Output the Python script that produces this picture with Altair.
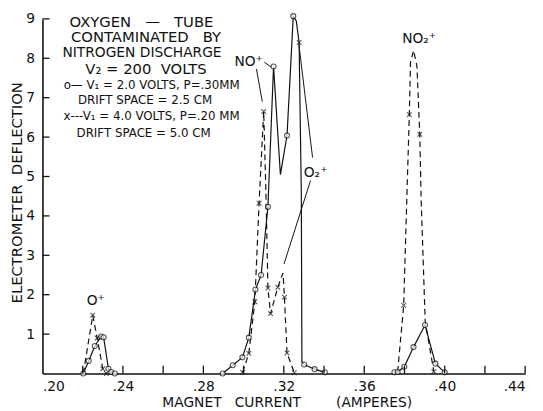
import altair as alt
import pandas as pd

NB = "\u00a0"  # non-breaking space keeps wide gaps in SVG text

# ---- data ----
# series "o" : V1 = 2.0 volts (solid line, open circles)
solid_x = [0.2203, 0.2230, 0.2260, 0.2292, 0.2304, 0.2328, 0.2342, 0.2360,
           0.2896, 0.2946, 0.2994, 0.3026, 0.3059, 0.3087, 0.3121, 0.3149, 0.3183, 0.3216,
           0.3247, 0.3262, 0.3276, 0.3287, 0.3290, 0.3301, 0.3353, 0.3404,
           0.3750, 0.3766, 0.3799, 0.3845, 0.3902, 0.3954, 0.4000]
solid_y = [0.0, 0.32, 0.70, 0.94, 0.92, 0.12, 0.04, 0.0,
           0.0, 0.21, 0.41, 0.91, 2.13, 2.50, 4.23, 7.79, 5.05, 6.04,
           9.07, 8.95, 8.40, 4.60, 0.30, 0.23, 0.11, 0.03,
           0.03, 0.04, 0.17, 0.67, 1.23, 0.25, 0.03]
solid_m = ["o", "o", "o", "o", "o", "o", "o", "o",
           "o", "o", "o", "o", "o", "o", "o", "o", "", "o",
           "o", "", "x", "", "", "o", "o", "o",
           "o", "o", "o", "o", "o", "o", "o"]
solid_g = [1] * 8 + [2] * 18 + [3] * 7

# series "x" : V1 = 4.0 volts (dashed line, crosses)
dash_x = [0.2203, 0.2250, 0.2272, 0.2300, 0.2318,
          0.2995, 0.3026, 0.3056, 0.3077, 0.3100, 0.3112, 0.3121, 0.3134, 0.3170, 0.3196,
          0.3203, 0.3216, 0.3252,
          0.3766, 0.3796, 0.3824, 0.3830, 0.3845, 0.3862, 0.3876, 0.3883, 0.3903, 0.3946]
dash_y = [0.0, 1.48, 0.90, 0.12, 0.0,
          0.03, 0.51, 1.82, 4.32, 6.65, 4.40, 2.17, 1.52, 2.19, 2.55,
          1.94, 0.52, 0.02,
          0.04, 1.73, 6.57, 7.90, 8.20, 7.80, 6.07, 4.40, 1.32, 0.05]
dash_m = ["", "x", "x", "x", "x",
          "x", "x", "x", "x", "x", "", "x", "x", "x", "",
          "x", "x", "x",
          "", "x", "x", "", "", "", "x", "", "", "x"]
dash_g = [1] * 5 + [2] * 13 + [3] * 10

x_ticks = [0.22, 0.24, 0.26, 0.28, 0.30, 0.32, 0.34, 0.36, 0.38, 0.40, 0.42, 0.44]
x_labels = [0.20, 0.24, 0.28, 0.32, 0.36, 0.40, 0.44]
y_ticks = [1, 2, 3, 4, 5, 6, 7, 8, 9]

peak_text = ["O⁺", "NO⁺", "NO₂⁺", "O₂⁺"]
peak_x = [0.2265, 0.3025, 0.3873, 0.3358]
peak_y = [1.85, 7.90, 8.48, 5.10]

# pointer lines (label -> curve)
ptr_x = [0.3064, 0.3103, 0.3343, 0.3333]
ptr_y = [7.73, 7.90, 5.48, 4.90]
ptr_x2 = [0.3093, 0.3137, 0.3275, 0.3201]
ptr_y2 = [6.90, 7.78, 8.35, 2.78]

note_text = ["OXYGEN" + NB * 3 + "—" + NB * 3 + "TUBE",
             "CONTAMINATED" + NB * 3 + "BY",
             "NITROGEN DISCHARGE",
             "V₂ = 200" + NB * 2 + "VOLTS",
             "o— V₁ = 2.0 VOLTS, P=.30MM",
             "DRIFT SPACE = 2.5 CM",
             "x---V₁ = 4.0 VOLTS, P=.20 MM",
             "DRIFT SPACE = 5.0 CM"]
note_x = [0.2492, 0.2515, 0.2495, 0.2515, 0.2543, 0.2510, 0.2543, 0.2503]
note_y = [8.93, 8.53, 8.13, 7.73, 7.33, 6.93, 6.53, 6.10]
note_size = [15, 15, 14, 15, 12, 12, 12, 12]

x_title = "MAGNET" + NB * 3 + "CURRENT" + NB * 8 + "(AMPERES)"
y_title = "ELECTROMETER" + NB * 2 + "DEFLECTION"

# ---- tables ----
solid = pd.DataFrame({"x": solid_x, "y": solid_y, "m": solid_m, "g": solid_g})
solid["i"] = range(len(solid))
dash = pd.DataFrame({"x": dash_x, "y": dash_y, "m": dash_m, "g": dash_g})
dash["i"] = range(len(dash))
pts = pd.concat([solid, dash], ignore_index=True)

FONT = "DejaVu Sans"
INK = "#111111"

xs = alt.Scale(domain=[0.20, 0.44], nice=False, zero=False)
ys = alt.Scale(domain=[0, 9], nice=False)

xaxis = alt.Axis(values=x_labels, labelExpr="substring(format(datum.value, '.2f'), 1)",
                 ticks=False, tickSize=0, grid=False, labelFontSize=14, labelPadding=6,
                 labelFont=FONT, labelColor=INK, domainColor=INK, domainWidth=1.6,
                 title=x_title, titleFont=FONT,
                 titleFontSize=14, titleFontWeight="normal", titleColor=INK,
                 titleX=248, titleY=29, titleAlign="center", titleBaseline="middle")
yaxis = alt.Axis(values=y_ticks, ticks=False, tickSize=0, grid=False, labelFontSize=14,
                 labelPadding=8, labelFont=FONT, labelColor=INK, domainColor=INK,
                 domainWidth=1.6, title=y_title, titleFont=FONT,
                 titleFontSize=15, titleFontWeight="normal", titleColor=INK,
                 titleX=-26, titleY=176, titleAngle=270, titleAlign="center",
                 titleBaseline="middle")

base = alt.Chart(pts)

line_solid = alt.Chart(solid).mark_line(color=INK, strokeWidth=1.2).encode(
    x=alt.X("x:Q", scale=xs, axis=xaxis),
    y=alt.Y("y:Q", scale=ys, axis=yaxis),
    detail="g:N", order="i:Q")
line_dash = alt.Chart(dash).mark_line(color=INK, strokeWidth=1.2, strokeDash=[6, 4]).encode(
    x=alt.X("x:Q", scale=xs), y=alt.Y("y:Q", scale=ys), detail="g:N", order="i:Q")

circles = base.transform_filter("datum.m == 'o'").mark_point(
    shape="circle", filled=True, fill="white", stroke=INK, strokeWidth=1.1, size=26).encode(
    x=alt.X("x:Q", scale=xs), y=alt.Y("y:Q", scale=ys))
crosses = base.transform_filter("datum.m == 'x'").mark_point(
    shape="M-1,-1L1,1M-1,1L1,-1", filled=False, stroke=INK, strokeWidth=1.1, size=22).encode(
    x=alt.X("x:Q", scale=xs), y=alt.Y("y:Q", scale=ys))

xt = pd.DataFrame({"x": x_ticks, "y0": [0.0] * len(x_ticks), "y1": [0.2] * len(x_ticks)})
xtick_rules = alt.Chart(xt).mark_rule(color=INK, strokeWidth=1.3).encode(
    x=alt.X("x:Q", scale=xs), y=alt.Y("y0:Q", scale=ys), y2="y1:Q")
yt = pd.DataFrame({"y": y_ticks, "x0": [0.20] * len(y_ticks), "x1": [0.2035] * len(y_ticks)})
ytick_rules = alt.Chart(yt).mark_rule(color=INK, strokeWidth=1.3).encode(
    y=alt.Y("y:Q", scale=ys), x=alt.X("x0:Q", scale=xs), x2="x1:Q")

pk = pd.DataFrame({"t": peak_text, "x": peak_x, "y": peak_y})
peak_labels = alt.Chart(pk).mark_text(font=FONT, fontSize=14, color=INK).encode(
    x=alt.X("x:Q", scale=xs), y=alt.Y("y:Q", scale=ys), text="t:N")

pt = pd.DataFrame({"x": ptr_x, "y": ptr_y, "x2": ptr_x2, "y2": ptr_y2})
pointers = alt.Chart(pt).mark_rule(color=INK, strokeWidth=1.0).encode(
    x=alt.X("x:Q", scale=xs), y=alt.Y("y:Q", scale=ys), x2="x2:Q", y2="y2:Q")

nt = pd.DataFrame({"t": note_text, "x": note_x, "y": note_y, "s": note_size})
notes = alt.Chart(nt).mark_text(font=FONT, color=INK).encode(
    x=alt.X("x:Q", scale=xs), y=alt.Y("y:Q", scale=ys), text="t:N",
    size=alt.Size("s:Q", scale=None, legend=None))

chart = alt.layer(line_solid, line_dash, circles, crosses, xtick_rules, ytick_rules,
                  pointers, peak_labels, notes).properties(
    width=490, height=360,
    autosize=alt.AutoSizeParams(type="none"),
    padding={"left": 35, "top": 8, "right": 10, "bottom": 35},
    background="white",
).configure_view(stroke=None)

chart.save("out.html", embed_options={"renderer": "svg", "actions": False})
